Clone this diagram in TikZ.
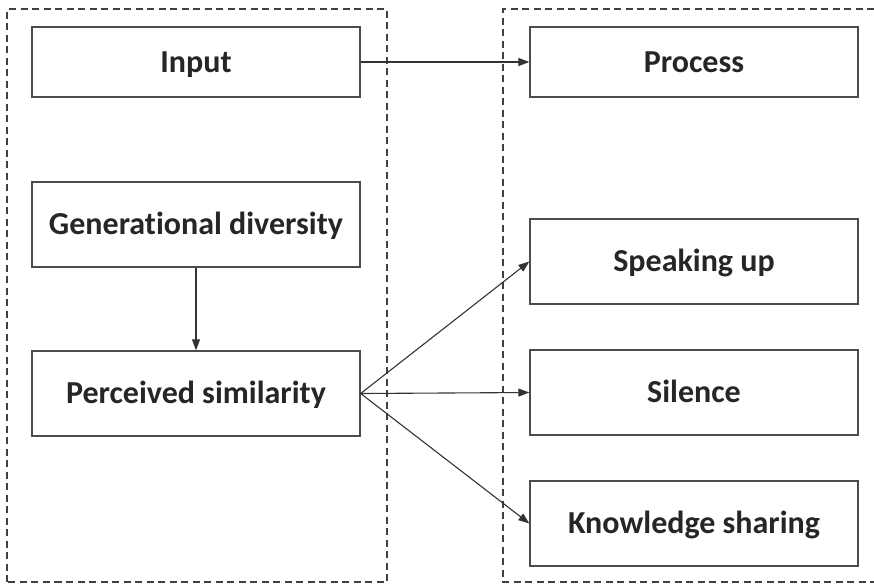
\documentclass[tikz,border=0pt]{standalone}
\usepackage{fontspec}
\setmainfont[Ligatures=NoCommon]{Carlito}
\usetikzlibrary{arrows.meta}
\begin{document}
\begin{tikzpicture}[x=1pt,y=-1pt,
  blockbox/.style={draw=black!70, line width=1.3pt, fill=white,
    minimum width=328pt, minimum height=85pt, inner sep=0pt,
    text height=20.5pt, text depth=0pt,
    font=\fontsize{32}{36}\selectfont\bfseries, text=black!85},
  frame/.style={draw=black!75, line width=1.1pt, dash pattern=on 7pt off 4.5pt},
  link/.style={draw=black!80, line width=1.1pt,
    -{Triangle[length=11pt,width=8pt]}}]
\useasboundingbox (0,0) rectangle (874,584);
% dashed group frames
\draw[frame] (7,582) -- (7,9) -- (387,9) -- (387,582) -- cycle;
\draw[frame] (874,9) -- (503,9) -- (503,582) -- (874,582);
% blocks
\node[blockbox, minimum height=70pt] (input)   at (196,62)  {Input};
\node[blockbox, minimum height=70pt] (process) at (694,62)  {Process};
\node[blockbox] (gen)     at (196,224.5) {Generational diversity};
\node[blockbox] (sim)     at (196,393.5) {Perceived similarity};
\node[blockbox] (speak)   at (694,261.5) {Speaking up};
\node[blockbox] (silence) at (694,392.5) {Silence};
\node[blockbox] (know)    at (694,523.5) {Knowledge sharing};
% connectors
\draw[link] (input.east) -- (process.west);
\draw[link] (gen.south) -- (sim.north);
\draw[link] (sim.east) -- (speak.west);
\draw[link] (sim.east) -- (silence.west);
\draw[link] (sim.east) -- (know.west);
\end{tikzpicture}
\end{document}
